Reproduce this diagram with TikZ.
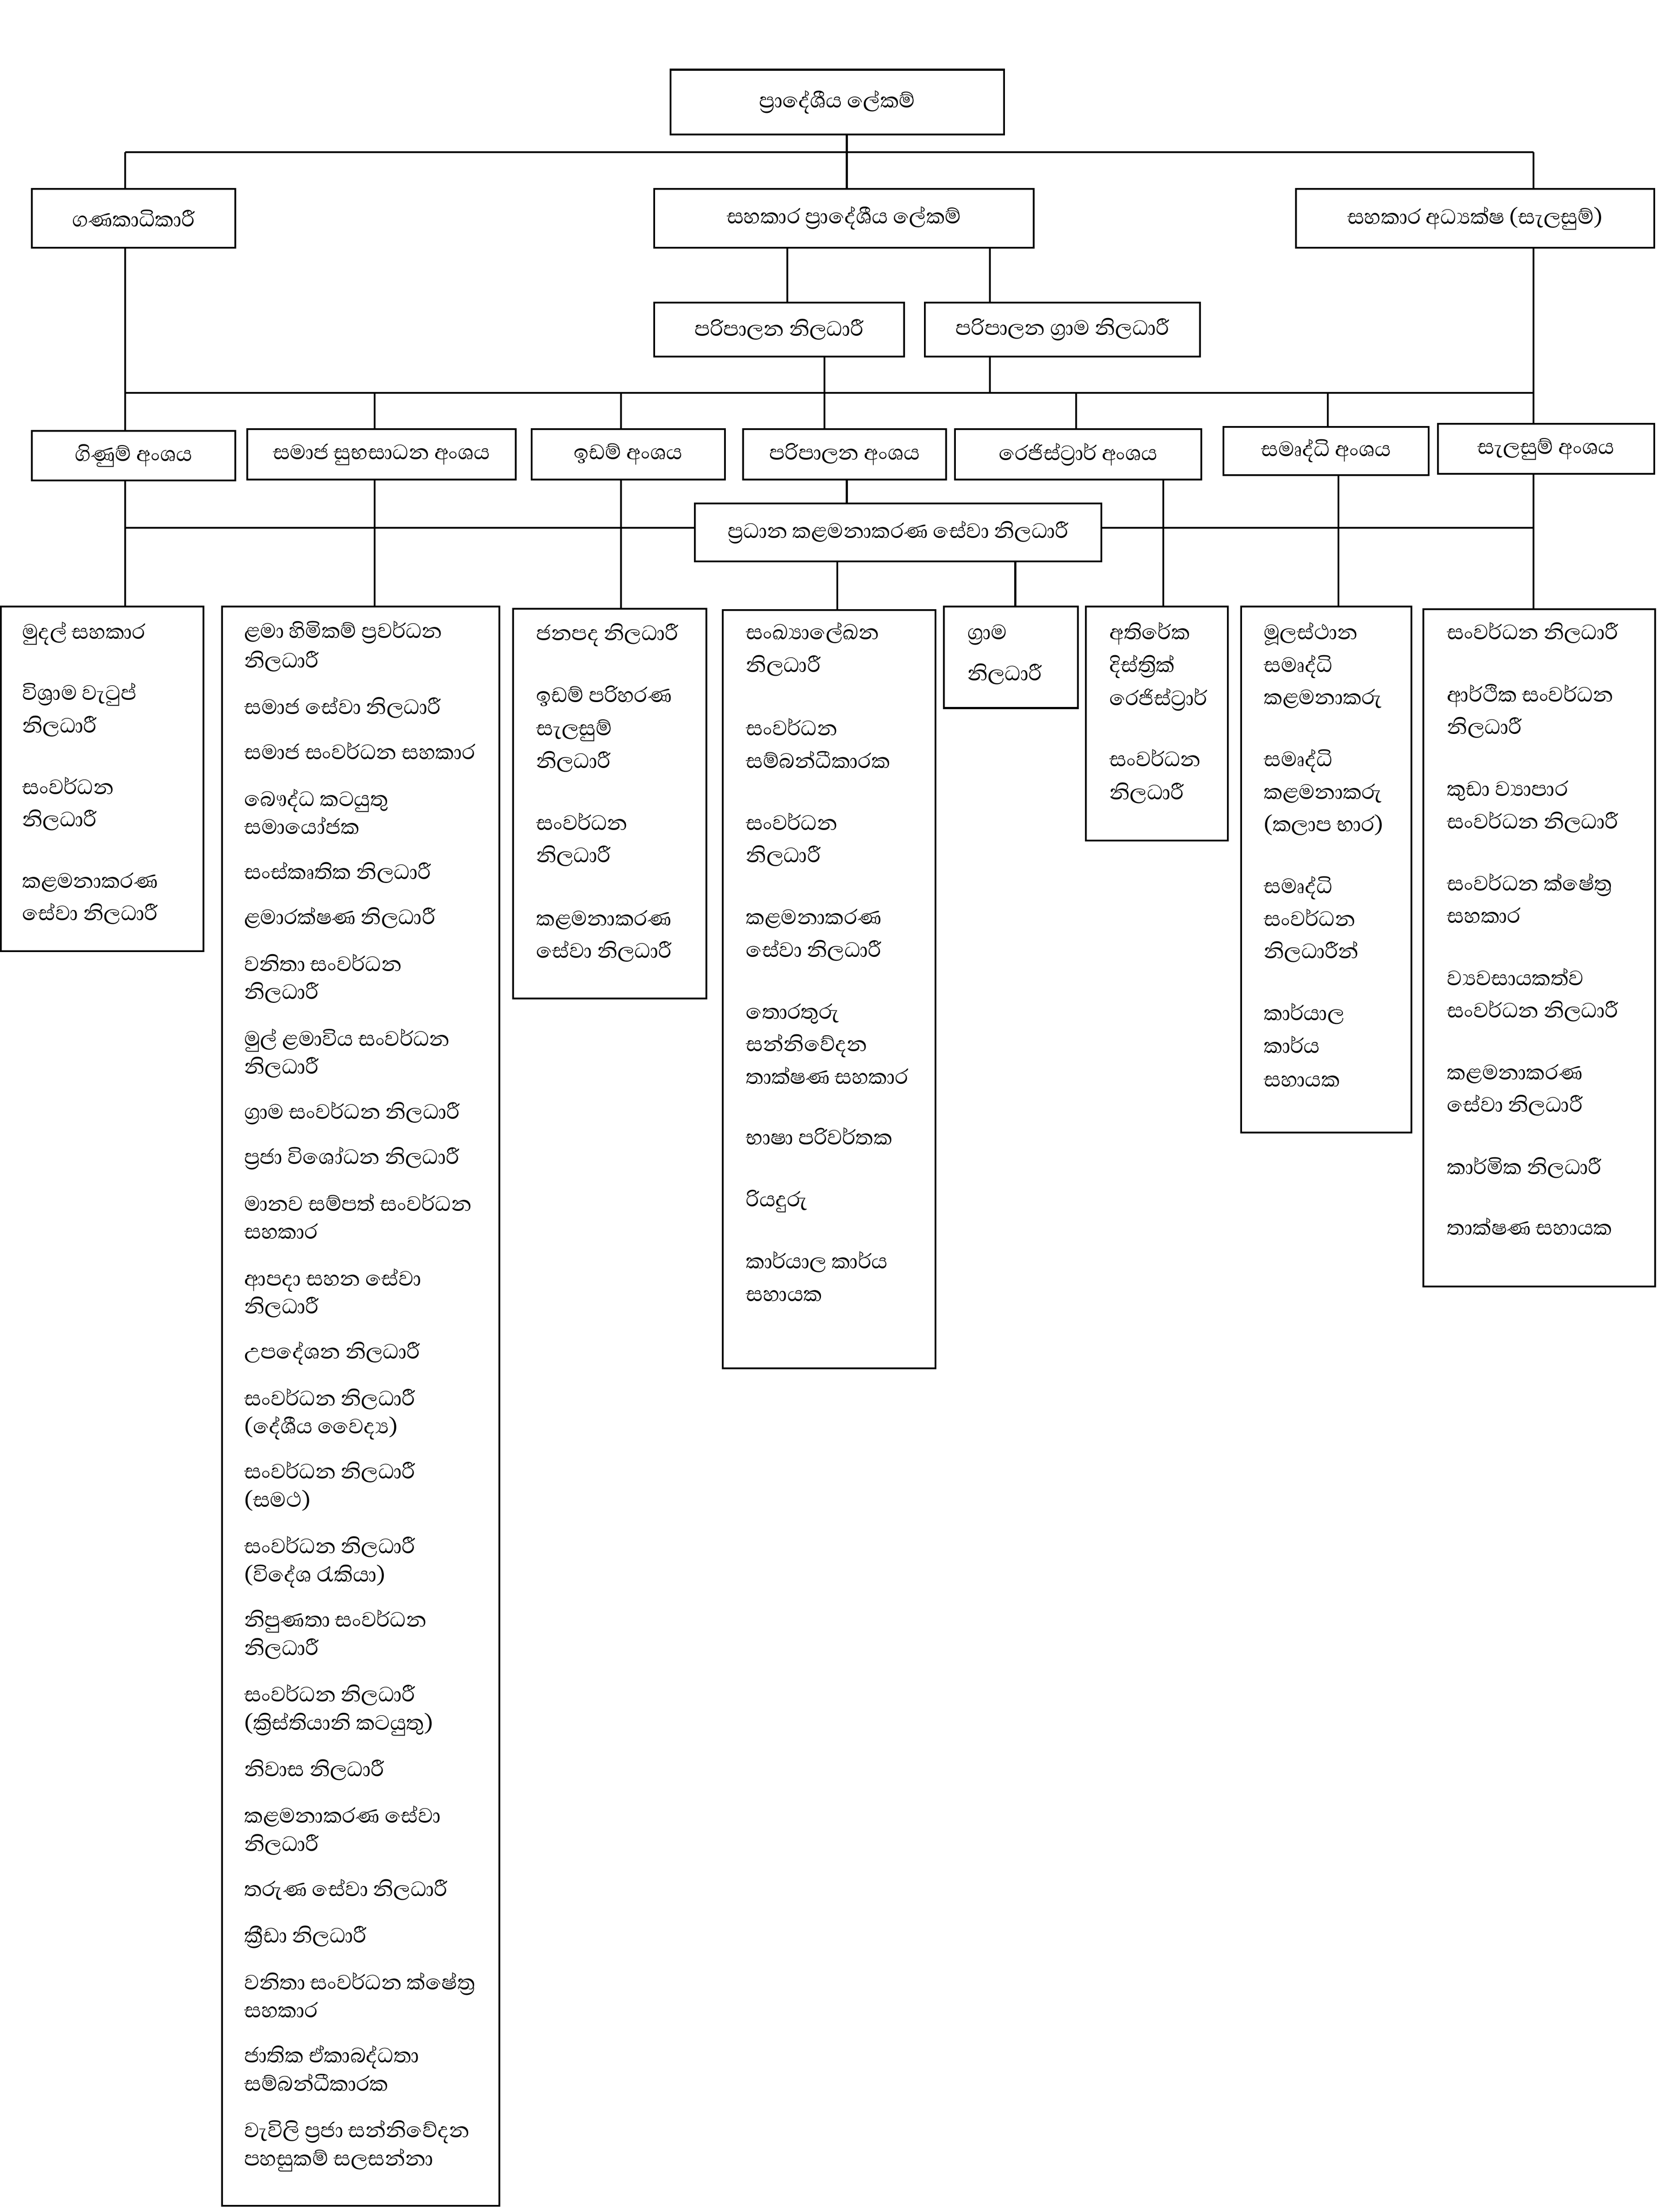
\documentclass[tikz,border=0pt]{standalone}
\usepackage{fontspec}
\newfontfamily\sinhala[Script=Sinhala]{Abhaya Libre}
\begin{document}
\begin{tikzpicture}[x=0.025cm,y=-0.025cm,
 ln/.style={line width=0.9pt},
 box/.style 2 args={draw,line width=0.9pt,fill=white,inner sep=0pt,minimum width=#1*0.025cm,minimum height=#2*0.025cm,align=center,font=\sinhala\fontsize{13.4}{16}\selectfont},
 item/.style={anchor=west,inner sep=0pt,text height=0.5em,text depth=0pt,font=\sinhala\fontsize{13.4}{16}\selectfont}]
\useasboundingbox[fill=white] (0,0) rectangle (1177.1,1568.3);

% ---- title boxes
\node[box={236.3}{45.8}] (top) at (593.75,72.3) {ප්^^^^200dරාදේශීය ලේකම්};
\node[box={144.5}{41.5}] (gana) at (94.75,154.75) {ගණකාධිකාරී};
\node[box={269}{41.5}] (sah) at (598.5,154.75) {සහකාර ප්^^^^200dරාදේශීය ලේකම්};
\node[box={254}{41.5}] (adh) at (1046,154.75) {සහකාර අධ්^^^^200dයක්ෂ (සැලසුම්)};
\node[box={177}{38.1}] (pa1) at (552.5,233.65) {පරිපාලන නිලධාරී};
\node[box={195}{38.1}] (pa2) at (753.5,233.65) {පරිපාලන ග්^^^^200dරාම නිලධාරී};

\node[box={144.5}{35.2}] (s1) at (94.75,323) {ගිණුම් අංශය};
\node[box={190.4}{35.7}] (s2) at (270.6,322.15) {සමාජ සුභසාධන අංශය};
\node[box={137}{35.7}] (s3) at (445.5,322.15) {ඉඩම් අංශය};
\node[box={144}{35.7}] (s4) at (599,322.15) {පරිපාලන අංශය};
\node[box={174.7}{35.7}] (s5) at (764.65,322.15) {රෙජිස්ට්^^^^200dරාර් අංශය};
\node[box={145.3}{34.1}] (s6) at (940.35,319.75) {සමෘද්ධි අංශය};
\node[box={153.3}{35.4}] (s7) at (1096.35,318.3) {සැලසුම් අංශය};

\node[box={288.1}{41}] (mid) at (636.95,377.5) {ප්^^^^200dරධාන කළමනාකරණ සේවා නිලධාරී};

% ---- column boxes
\node[box={143.6}{244.3}] (c1) at (72.5,552.15) {};
\node[box={196.5}{1133.8}] (c2) at (255.75,996.9) {};
\node[box={137.1}{276.3}] (c3) at (432.45,569.85) {};
\node[box={151}{537.4}] (c4) at (588,701.3) {};
\node[box={95.1}{72}] (c5) at (716.85,466) {};
\node[box={100.6}{166}] (c6) at (820.3,513) {};
\node[box={121}{373}] (c7) at (940.5,616.5) {};
\node[box={164.4}{480}] (c8) at (1091.6,672) {};

% ---- helper coordinates
\coordinate (b1L) at (88.8,107.9);
\coordinate (b1R) at (1087.5,107.9);
\coordinate (b2L) at (88.8,278.6);
\coordinate (b2R) at (1087.5,278.6);
\coordinate (b3L) at (88.8,374.2);
\coordinate (b3R) at (1087.5,374.2);
\coordinate (xT) at (600.5,0);
\coordinate (xP1) at (558.4,0);
\coordinate (xP2) at (702,0);
\coordinate (xQ1) at (584.8,0);
\coordinate (xS2) at (265.7,0);
\coordinate (xS3) at (440.3,0);
\coordinate (xS5) at (763,0);
\coordinate (xS6) at (941.5,0);
\coordinate (xR5) at (824.8,0);
\coordinate (xR6) at (949,0);
\coordinate (xM1) at (593.8,0);
\coordinate (xM2) at (720,0);

% ---- connectors
\draw[ln] (b1L) -- (b1R);
\draw[ln] (top.south -| xT) -- (sah.north -| xT);
\draw[ln] (b1L) -- (gana.north -| b1L);
\draw[ln] (b1R) -- (adh.north -| b1R);
\draw[ln] (gana.south -| b1L) -- (s1.north -| b1L);
\draw[ln] (adh.south -| b1R) -- (s7.north -| b1R);
\draw[ln] (sah.south -| xP1) -- (pa1.north -| xP1);
\draw[ln] (sah.south -| xP2) -- (pa2.north -| xP2);
\draw[ln] (pa1.south -| xQ1) -- (s4.north -| xQ1);
\draw[ln] (pa2.south -| xP2) -- (b2R -| xP2);
\draw[ln] (b2L) -- (b2R);
\draw[ln] (b2L -| xS2) -- (s2.north -| xS2);
\draw[ln] (b2L -| xS3) -- (s3.north -| xS3);
\draw[ln] (b2L -| xS5) -- (s5.north -| xS5);
\draw[ln] (b2L -| xS6) -- (s6.north -| xS6);
\draw[ln] (s4.south -| xT) -- (mid.north -| xT);
\draw[ln] (b3L) -- (mid.west |- b3L);
\draw[ln] (mid.east |- b3R) -- (b3R);
\draw[ln] (s1.south -| b3L) -- (c1.north -| b3L);
\draw[ln] (s2.south -| xS2) -- (c2.north -| xS2);
\draw[ln] (s3.south -| xS3) -- (c3.north -| xS3);
\draw[ln] (s5.south -| xR5) -- (c6.north -| xR5);
\draw[ln] (s6.south -| xR6) -- (c7.north -| xR6);
\draw[ln] (s7.south -| b3R) -- (c8.north -| b3R);
\draw[ln] (mid.south -| xM1) -- (c4.north -| xM1);
\draw[ln] (mid.south -| xM2) -- (c5.north -| xM2);

% ---- column texts
\foreach \y/\t [count=\i] in {449.7/මුදල් සහකාර, 493/විශ්^^^^200dරාම වැටුප්, 516/නිලධාරී, 559.6/සංවර්ධන, 582.7/නිලධාරී, 626/කළමනාකරණ, 649/සේවා නිලධාරී}
  \node[item] (t1-\i) at (15.6,\y) {\t};

\foreach \y/\t [count=\i] in {449/ළමා හිමිකම් ප්^^^^200dරවර්ධන, 470/නිලධාරී, 503/සමාජ සේවා නිලධාරී, 535/සමාජ සංවර්ධන සහකාර, 568/බෞද්ධ කටයුතු, 588/සමායෝජක, 620/සංස්කෘතික නිලධාරී, 652/ළමාරක්ෂණ නිලධාරී, 685/වනිතා සංවර්ධන, 705/නිලධාරී, 738/මුල් ළමාවිය සංවර්ධන, 758/නිලධාරී, 790/ග්^^^^200dරාම සංවර්ධන නිලධාරී, 822/ප්^^^^200dරජා විශෝධන නිලධාරී, 855/මානව සම්පත් සංවර්ධන, 875/සහකාර, 908/ආපදා සහන සේවා, 928/නිලධාරී, 960/උපදේශන නිලධාරී, 993/සංවර්ධන නිලධාරී, 1013/(දේශීය වෛද්^^^^200dය), 1045/සංවර්ධන නිලධාරී, 1065/(සමථ), 1098/සංවර්ධන නිලධාරී, 1118/(විදේශ රැකියා), 1150/නිපුණතා සංවර්ධන, 1170/නිලධාරී, 1203/සංවර්ධන නිලධාරී, 1223/(ක්^^^^200dරිස්තියානි කටයුතු), 1256/නිවාස නිලධාරී, 1289/කළමනාකරණ සේවා, 1309/නිලධාරී, 1341/තරුණ සේවා නිලධාරී, 1374/ක්^^^^200dරීඩා නිලධාරී, 1407/වනිතා සංවර්ධන ක්ෂේත්^^^^200dර, 1427/සහකාර, 1459/ජාතික ඒකාබද්ධතා, 1479/සම්බන්ධීකාරක, 1512/වැවිලි ප්^^^^200dරජා සන්නිවේදන, 1532/පහසුකම් සලසන්නා}
  \node[item] (t2-\i) at (173,\y) {\t};

\foreach \y/\t [count=\i] in {450.6/ජනපද නිලධාරී, 494.5/ඉඩම් පරිහරණ, 518/සැලසුම්, 541/නිලධාරී, 585/සංවර්ධන, 608/නිලධාරී, 652.7/කළමනාකරණ, 675.7/සේවා නිලධාරී}
  \node[item] (t3-\i) at (380,\y) {\t};

\foreach \y/\t [count=\i] in {450/සංඛ්^^^^200dයාලේඛන, 473/නිලධාරී, 518/සංවර්ධන, 541/සම්බන්ධීකාරක, 585/සංවර්ධන, 608/නිලධාරී, 652/කළමනාකරණ, 675/සේවා නිලධාරී, 719/තොරතුරු, 742/සන්නිවේදන, 765/තාක්ෂණ සහකාර, 808/භාෂා පරිවර්තක, 852/රියදුරු, 896/කාර්යාල කාර්ය, 919/සහායක}
  \node[item] (t4-\i) at (528.8,\y) {\t};

\foreach \y/\t [count=\i] in {450/ග්^^^^200dරාම, 479/නිලධාරී}
  \node[item] (t5-\i) at (685.8,\y) {\t};

\foreach \y/\t [count=\i] in {450/අතිරේක, 473/දිස්ත්^^^^200dරික්, 496.5/රෙජිස්ට්^^^^200dරාර්, 540/සංවර්ධන, 563.5/නිලධාරී}
  \node[item] (t6-\i) at (786.5,\y) {\t};

\foreach \y/\t [count=\i] in {450/මූලස්ථාන, 473/සමෘද්ධි, 496/කළමනාකරු, 540/සමෘද්ධි, 563/කළමනාකරු, 586/(කලාප භාර), 630/සමෘද්ධි, 653/සංවර්ධන, 676/නිලධාරීන්, 720/කාර්යාල, 743/කාර්ය, 767/සහායක}
  \node[item] (t7-\i) at (896,\y) {\t};

\foreach \y/\t [count=\i] in {450/සංවර්ධන නිලධාරී, 494/ආර්ථික සංවර්ධන, 517/නිලධාරී, 561/කුඩා ව්^^^^200dයාපාර, 584/සංවර්ධන නිලධාරී, 628/සංවර්ධන ක්ෂේත්^^^^200dර, 651/සහකාර, 695/ව්^^^^200dයවසායකත්ව, 718/සංවර්ධන නිලධාරී, 762/කළමනාකරණ, 785/සේවා නිලධාරී, 829/කාර්මික නිලධාරී, 872/තාක්ෂණ සහායක}
  \node[item] (t8-\i) at (1026,\y) {\t};
\end{tikzpicture}
\end{document}
